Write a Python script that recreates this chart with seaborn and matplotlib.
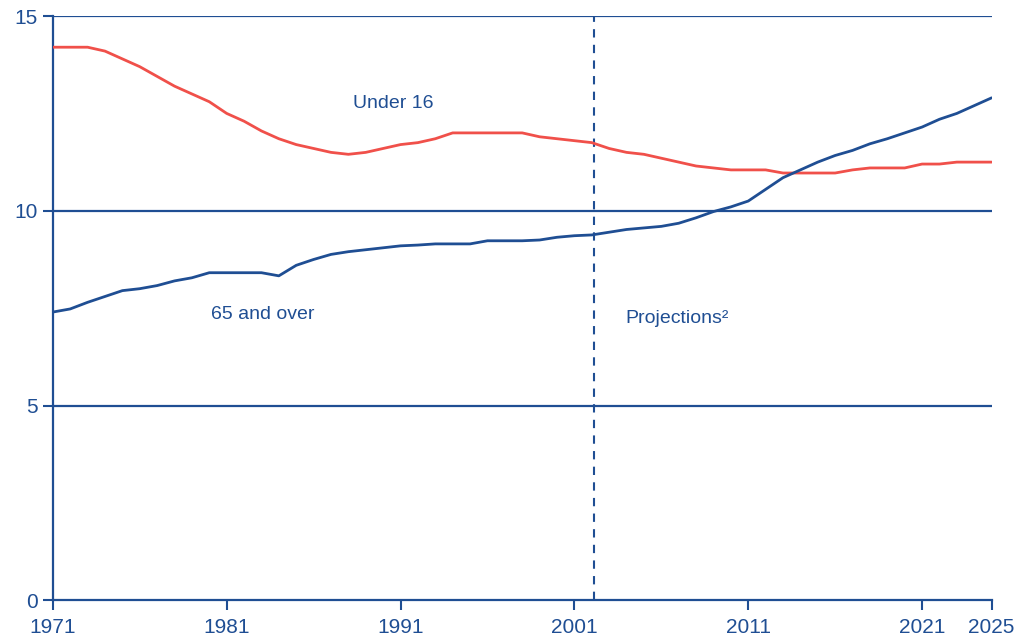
import matplotlib
matplotlib.use("Agg")
import matplotlib.pyplot as plt
import numpy as np
import pandas as pd
import seaborn as sns

YEARS = list(range(1971, 2026))

UNDER_16 = [
    14.2, 14.2, 14.2, 14.1, 13.9, 13.7, 13.45, 13.2, 13.0, 12.8,
    12.5, 12.3, 12.05, 11.85, 11.7, 11.6, 11.5, 11.45, 11.5, 11.6,
    11.7, 11.75, 11.85, 12.0, 12.0, 12.0, 12.0, 12.0, 11.9, 11.85,
    11.8, 11.75, 11.6, 11.5, 11.45, 11.35, 11.25, 11.15, 11.1, 11.05,
    11.05, 11.05, 10.97, 10.97, 10.97, 10.97, 11.05, 11.1, 11.1, 11.1,
    11.2, 11.2, 11.25, 11.25, 11.25,
]

OVER_65 = [
    7.4, 7.48, 7.65, 7.8, 7.95, 8.0, 8.08, 8.2, 8.28, 8.41,
    8.41, 8.41, 8.41, 8.33, 8.6, 8.75, 8.88, 8.95, 9.0, 9.05,
    9.1, 9.12, 9.15, 9.15, 9.15, 9.23, 9.23, 9.23, 9.25, 9.32,
    9.36, 9.38, 9.45, 9.52, 9.56, 9.6, 9.68, 9.82, 9.98, 10.1,
    10.25, 10.55, 10.85, 11.05, 11.25, 11.42, 11.55, 11.72, 11.85, 12.0,
    12.15, 12.35, 12.5, 12.7, 12.9,
]

X_TICKS = [1971, 1981, 1991, 2001, 2011, 2021, 2025]
Y_TICKS = [0, 5, 10, 15]
PROJECTION_START = 2002.1

NAVY = "#1f4e93"
RED = "#f0504a"

df = pd.DataFrame({
    "year": YEARS * 2,
    "value": UNDER_16 + OVER_65,
    "group": ["Under 16"] * len(YEARS) + ["65 and over"] * len(YEARS),
})

sns.set_theme(style="white")
plt.rcParams["font.family"] = ["Liberation Sans", "DejaVu Sans"]

fig = plt.figure(figsize=(10.16, 6.42), dpi=100)
ax = fig.add_axes([0.052, 0.065, 0.924, 0.91])

for y in Y_TICKS[1:]:
    ax.axhline(y, color=NAVY, lw=1.6, zorder=1)

ax.axvline(PROJECTION_START, color=NAVY, lw=1.5, dashes=(4, 3.5), zorder=1)

sns.lineplot(
    data=df, x="year", y="value", hue="group",
    palette={"Under 16": RED, "65 and over": NAVY},
    linewidth=2, legend=False, ax=ax, zorder=3,
)

ax.set_xlim(1971, 2025)
ax.set_ylim(0, 15)
ax.set_xticks(X_TICKS)
ax.set_yticks(Y_TICKS)
ax.set_xlabel("")
ax.set_ylabel("")

for side in ["top", "right"]:
    ax.spines[side].set_visible(False)
for side in ["left", "bottom"]:
    ax.spines[side].set_color(NAVY)
    ax.spines[side].set_linewidth(1.6)

ax.tick_params(axis="both", colors=NAVY, labelcolor=NAVY, labelsize=15,
               length=7, width=1.5, direction="out", bottom=True, left=True)
ax.tick_params(axis="x", pad=6)
ax.tick_params(axis="y", pad=4)

ax.text(1990.6, 12.75, "Under 16", color=NAVY, fontsize=14, ha="center", va="center")
ax.text(1983.1, 7.33, "65 and over", color=NAVY, fontsize=14, ha="center", va="center")
ax.text(2006.9, 7.23, "Projections²", color=NAVY, fontsize=14, ha="center", va="center")

fig.savefig("out.png", dpi=100)
